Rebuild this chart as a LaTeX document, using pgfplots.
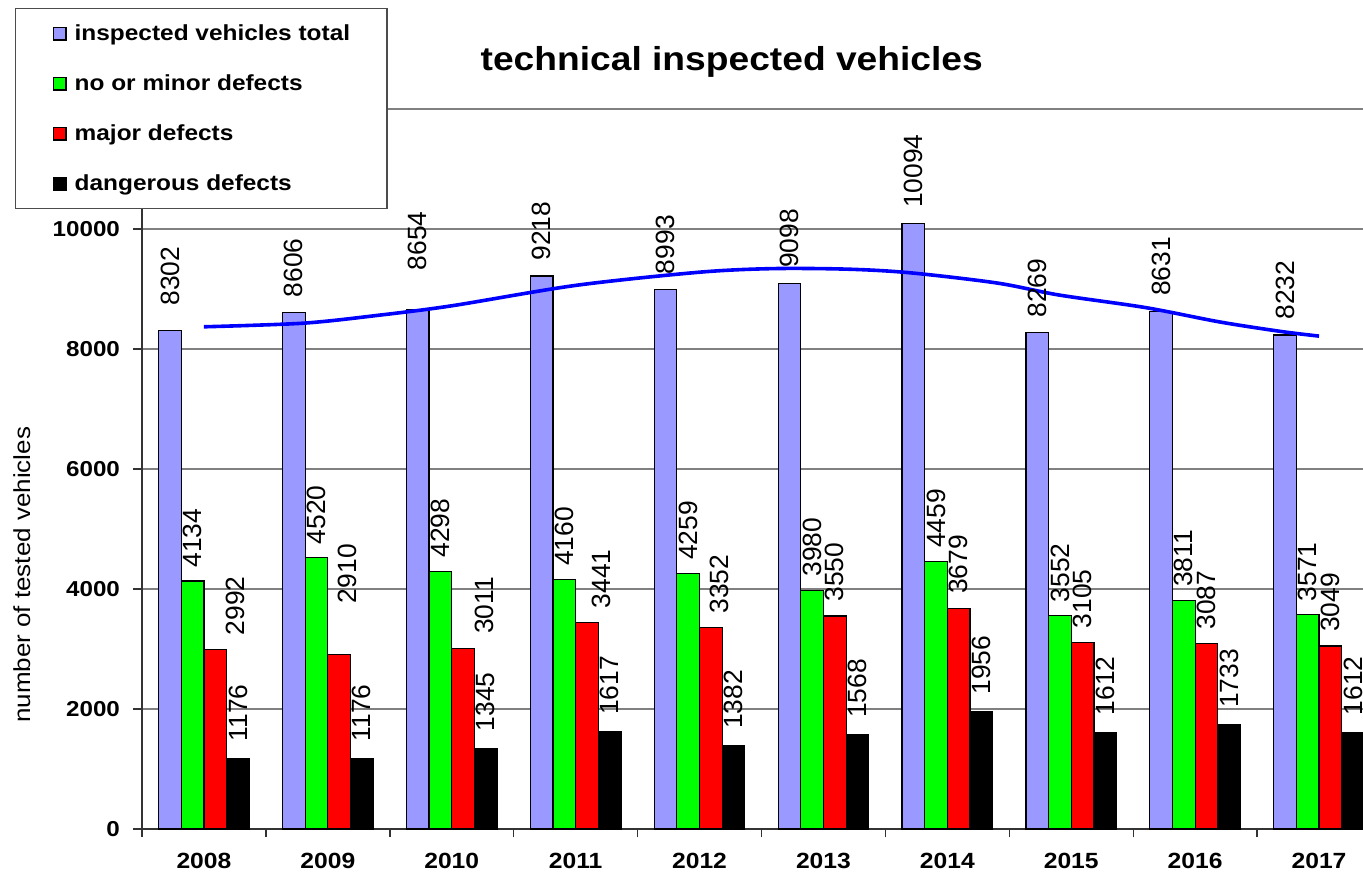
\documentclass[border=0pt]{standalone}
\usepackage{fontspec}
\setmainfont{Liberation Sans}[FakeStretch=1.12]
\newfontfamily\rotfont{Liberation Sans}
\usepackage{pgfplots}
\pgfplotsset{compat=1.18}
\definecolor{barblue}{RGB}{153,153,255}
\definecolor{bargreen}{RGB}{0,255,0}
\definecolor{barred}{RGB}{255,0,0}
\definecolor{gridgray}{RGB}{128,128,128}
\pgfplotsset{
  sqleg/.style={legend image code/.code={\draw[##1] (0pt,-3.2pt) rectangle (6.4pt,3.2pt);}},
  lbl/.style={forget plot, draw=none, mark=none, nodes near coords, point meta=explicit symbolic,
    nodes near coords style={rotate=90, anchor=west, inner sep=0pt, font=\rotfont\fontsize{13.2}{13}\selectfont}},
}
\begin{document}
\begin{tikzpicture}
\begin{axis}[
  scale only axis, width=619.5pt, height=360pt,
  xmin=-0.5, xmax=9.5, ymin=0, ymax=12000,
  clip=false,
  axis x line*=bottom, axis y line*=left,
  axis line style={black!80, line width=0.7pt},
  ytick={0,2000,...,12000},
  scaled y ticks=false,
  ymajorgrids, grid style={gridgray, line width=0.7pt},
  xtick={0,...,9},
  xticklabels={2008,2009,2010,2011,2012,2013,2014,2015,2016,2017},
  minor xtick={-0.5,0.5,...,9.5},
  tick align=outside,
  major tick length=4.5pt, minor tick length=4pt,
  major x tick style={draw=none},
  tick style={black!80, line width=0.7pt},
  /pgf/number format/assume math mode=true,
  /pgf/number format/1000 sep={},
  yticklabel style={font=\bfseries\fontsize{10.8}{12}\selectfont, xshift=-3pt},
  xticklabel style={font=\bfseries\fontsize{11}{12}\selectfont, yshift=-4pt},
  ylabel={number of tested vehicles},
  ylabel style={at={(axis description cs:-0.097,0.353)}, anchor=center, font=\fontsize{11.6}{12}\selectfont},
  title={technical inspected vehicles},
  title style={at={(axis description cs:0.476,1)}, anchor=center, yshift=17.5pt, font=\bfseries\fontsize{16.6}{18}\selectfont},
  legend style={at={(axis description cs:0,1)}, anchor=north west, xshift=-63.5pt, yshift=50.5pt,
    draw=black!70, line width=0.7pt, fill=white, inner xsep=18.5pt, inner ysep=0pt,
    row sep=0pt, column sep=4pt,
    nodes={inner sep=0pt, minimum height=25pt},
    font=\bfseries\fontsize{10.9}{12}\selectfont},
  legend cell align=left,
]
\coordinate (SW) at (rel axis cs:0,0);
\coordinate (NE) at (rel axis cs:1,1);

\addplot[ybar, bar width=0.183, bar shift=-0.2745, fill=barblue, draw=black, line width=0.6pt, sqleg]
  coordinates {(0,8302) (1,8606) (2,8654) (3,9218) (4,8993) (5,9098) (6,10094) (7,8269) (8,8631) (9,8232)};
\addlegendentry{inspected vehicles total}
\addplot[ybar, bar width=0.183, bar shift=-0.0915, fill=bargreen, draw=black, line width=0.6pt, sqleg]
  coordinates {(0,4134) (1,4520) (2,4298) (3,4160) (4,4259) (5,3980) (6,4459) (7,3552) (8,3811) (9,3571)};
\addlegendentry{no or minor defects}
\addplot[ybar, bar width=0.183, bar shift=0.0915, fill=barred, draw=black, line width=0.6pt, sqleg]
  coordinates {(0,2992) (1,2910) (2,3011) (3,3441) (4,3352) (5,3550) (6,3679) (7,3105) (8,3087) (9,3049)};
\addlegendentry{major defects}
\addplot[ybar, bar width=0.183, bar shift=0.2745, fill=black, draw=black, line width=0.6pt, sqleg]
  coordinates {(0,1176) (1,1176) (2,1345) (3,1617) (4,1382) (5,1568) (6,1956) (7,1612) (8,1733) (9,1612)};
\addlegendentry{dangerous defects}

% trend line
\addplot[forget plot, blue, line width=1.8pt, smooth, mark=none]
  coordinates {(0,8370) (0.8,8430) (1.4,8560) (2,8720) (3,9060) (4,9280) (4.6,9340) (5.2,9330) (5.7,9270) (6.4,9100) (6.9,8900) (7.6,8690) (8.2,8450) (8.7,8290) (9.0,8215)};

% value labels
\addplot[lbl] table[meta=l] {
x y l
-0.2745 8719 8302
0.7255 8856 8606
1.7255 9304 8654
2.7255 9468 9218
3.7255 9243 8993
4.7255 9348 9098
5.7255 10344 10094
6.7255 8519 8269
7.7255 8881 8631
8.7255 8482 8232
};
\addplot[lbl] table[meta=l] {
x y l
-0.0915 4354 4134
0.9085 4740 4520
1.9085 4518 4298
2.9085 4380 4160
3.9085 4479 4259
4.9085 4200 3980
5.9085 4679 4459
6.9085 3772 3552
7.9085 4031 3811
8.9085 3791 3571
};
\addplot[lbl] table[meta=l] {
x y l
0.2525 3225 2992
1.1565 3760 2910
2.2615 3244 3011
3.2045 3674 3441
4.1565 3585 3352
5.0915 3783 3550
6.0915 3912 3679
7.0915 3338 3105
8.0915 3320 3087
9.0915 3282 3049
};
\addplot[lbl] table[meta=l] {
x y l
0.2745 1456 1176
1.2745 1456 1176
2.2745 1625 1345
3.2745 1897 1617
4.2745 1662 1382
5.2745 1848 1568
6.2745 2236 1956
7.2745 1892 1612
8.2745 2013 1733
9.2745 1892 1612
};
\end{axis}
\pgfresetboundingbox
\useasboundingbox ([xshift=-71pt, yshift=-21.5pt]SW) rectangle ([xshift=-9pt, yshift=54.5pt]NE);
\end{tikzpicture}
\end{document}
